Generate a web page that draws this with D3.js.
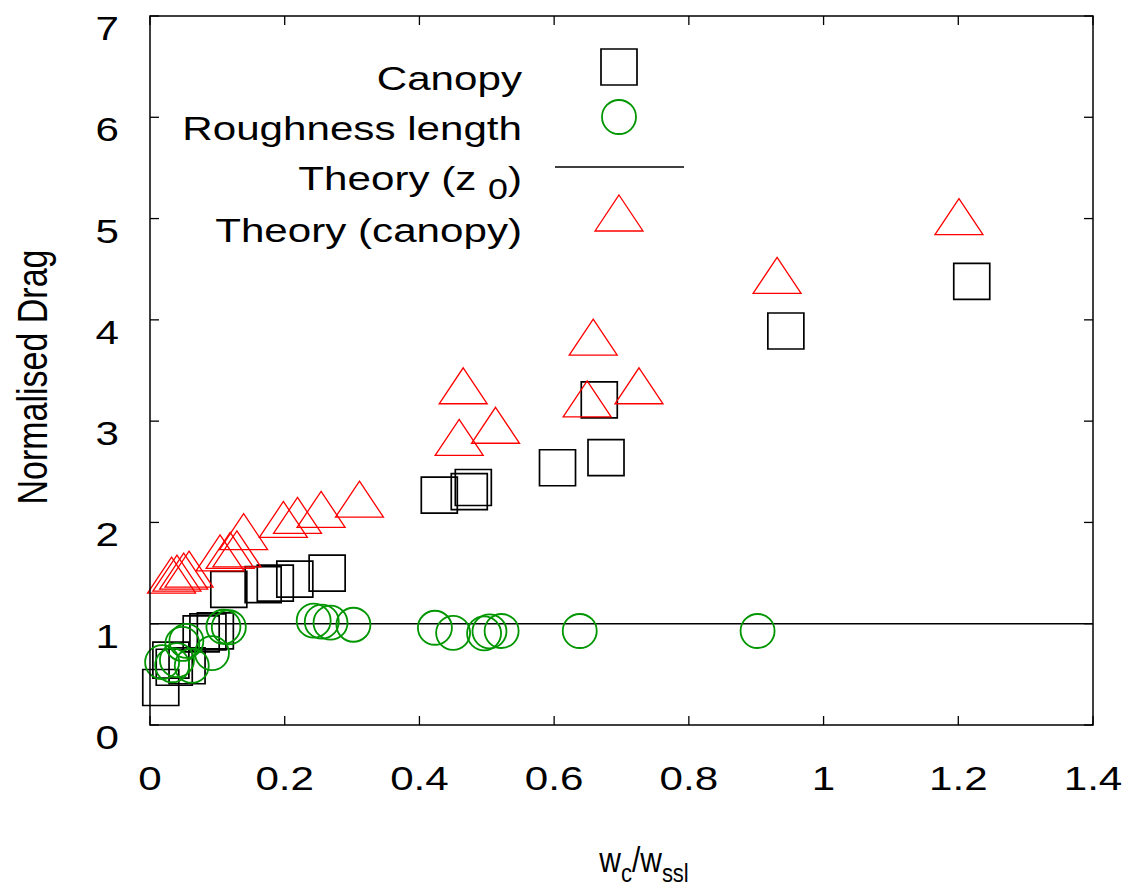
<!DOCTYPE html>
<html><head><meta charset="utf-8">
<script src="https://cdn.jsdelivr.net/npm/d3@7"></script>
<style>
html,body{margin:0;padding:0;background:#fff;}
text{font-family:"Liberation Sans",Arial,sans-serif;fill:#000;}
</style></head>
<body><svg id="chart" width="1128" height="889"></svg>
<script>
// ---- data ----
const canopyX = [0.016,0.031,0.036,0.055,0.076,0.086,0.097,0.117,0.168,0.186,0.215,0.263,0.4295,0.474,0.480,0.605,0.677,0.667,0.944,1.220];
const canopyY = [0.37,0.64,0.57,0.585,0.90,0.92,0.93,1.34,1.385,1.40,1.44,1.50,2.27,2.305,2.345,2.54,2.64,3.21,3.89,4.38];

const roughX = [0.018,0.033,0.040,0.048,0.054,0.062,0.092,0.109,0.117,0.243,0.255,0.268,0.302,0.423,0.450,0.496,0.504,0.522,0.638,0.902];
const roughY = [0.62,0.59,0.64,0.80,0.83,0.585,0.71,0.97,0.965,1.03,1.02,1.01,0.99,0.96,0.91,0.905,0.925,0.928,0.928,0.928];

const theoryZ0X = [0, 1.4];
const theoryZ0Y = [1, 1];

const theoryCanX = [0.032,0.040,0.050,0.058,0.104,0.119,0.129,0.139,0.198,0.219,0.254,0.311,0.459,0.465,0.513,0.649,0.658,0.726,0.931,1.201];
const theoryCanY = [1.42,1.44,1.46,1.48,1.64,1.665,1.68,1.85,1.97,2.01,2.07,2.17,2.78,3.29,2.90,3.16,3.77,3.29,4.38,4.96];

const xTicks = [0,0.2,0.4,0.6,0.8,1,1.2,1.4];
const xTickLabels = ["0","0.2","0.4","0.6","0.8","1","1.2","1.4"];
const yTicks = [0,1,2,3,4,5,6,7];
const yTickLabels = ["0","1","2","3","4","5","6","7"];

const legendLabels = ["Canopy","Roughness length","Theory (z","Theory (canopy)"];

// ---- layout ----
const L=150, R=1093, T=16, B=725;
const svg = d3.select("#chart");
const x = d3.scaleLinear().domain([0,1.4]).range([L,R]);
const y = d3.scaleLinear().domain([0,7]).range([B,T]);
const FS = 34, SX = 1.24;
const green = "#009600", red = "#ff0000";
const HS = 18;   // half size of markers
const tickLen = 9;

function stext(parent, px, py, anchor){
  return parent.append("text")
    .attr("transform",`translate(${px},${py}) scale(${SX},1)`)
    .attr("text-anchor",anchor).attr("font-size",FS);
}

// ticks (inward, mirrored)
const g = svg.append("g").attr("stroke","#000").attr("stroke-width",1.3);
xTicks.forEach(v=>{
  g.append("line").attr("x1",x(v)).attr("x2",x(v)).attr("y1",B).attr("y2",B-tickLen);
  g.append("line").attr("x1",x(v)).attr("x2",x(v)).attr("y1",T).attr("y2",T+tickLen);
});
yTicks.forEach(v=>{
  g.append("line").attr("x1",L).attr("x2",L+tickLen).attr("y1",y(v)).attr("y2",y(v));
  g.append("line").attr("x1",R).attr("x2",R-tickLen).attr("y1",y(v)).attr("y2",y(v));
});

// tick labels
const xl = svg.append("g");
xTicks.forEach((v,i)=>stext(xl, x(v), B+65, "middle").text(xTickLabels[i]));
const yl = svg.append("g");
yTicks.forEach((v,i)=>stext(yl, L-31, y(v)+24, "end").text(yTickLabels[i]));

// theory z0 line
const line = d3.line().x(d=>x(d[0])).y(d=>y(d[1]));
svg.append("path").datum(theoryZ0X.map((v,i)=>[v,theoryZ0Y[i]]))
  .attr("d",line).attr("fill","none").attr("stroke","#000").attr("stroke-width",1.5);

// marker shapes
function sq(cx,cy){return `M${cx-HS},${cy-HS}h${2*HS}v${2*HS}h${-2*HS}Z`;}
function tri(cx,cy){const h=HS; return `M${cx},${cy-4*h/3}L${cx+4*h/3},${cy+2*h/3}L${cx-4*h/3},${cy+2*h/3}Z`;}

// canopy squares
svg.append("g").selectAll("path").data(canopyX.map((v,i)=>[v,canopyY[i]])).join("path")
  .attr("d",d=>sq(x(d[0]),y(d[1]))).attr("fill","none").attr("stroke","#000").attr("stroke-width",1.7);
// roughness circles
svg.append("g").selectAll("circle").data(roughX.map((v,i)=>[v,roughY[i]])).join("circle")
  .attr("cx",d=>x(d[0])).attr("cy",d=>y(d[1])).attr("r",17)
  .attr("fill","none").attr("stroke",green).attr("stroke-width",1.8);
// theory canopy triangles
svg.append("g").selectAll("path").data(theoryCanX.map((v,i)=>[v,theoryCanY[i]])).join("path")
  .attr("d",d=>tri(x(d[0]),y(d[1]))).attr("fill","none").attr("stroke",red).attr("stroke-width",1.3);

// frame
svg.append("rect").attr("x",L).attr("y",T).attr("width",R-L).attr("height",B-T)
  .attr("fill","none").attr("stroke","#000").attr("stroke-width",1.5);

// legend
const legX = 522, symX = 619, rows=[67,117,167,219];
const lg = svg.append("g");
[0,1,3].forEach(i=>stext(lg, legX, rows[i]+23, "end").text(legendLabels[i]));
const t3 = stext(lg, legX, rows[2]+23, "end");
t3.append("tspan").text(legendLabels[2]+" ");
t3.append("tspan").attr("dy",9).attr("font-size",FS*0.85).text("0");
t3.append("tspan").attr("dy",-9).text(")");
lg.append("path").attr("d",sq(symX,rows[0])).attr("fill","none").attr("stroke","#000").attr("stroke-width",1.7);
lg.append("circle").attr("cx",symX).attr("cy",rows[1]).attr("r",17).attr("fill","none").attr("stroke",green).attr("stroke-width",1.8);
lg.append("line").attr("x1",555).attr("x2",684).attr("y1",rows[2]).attr("y2",rows[2]).attr("stroke","#000").attr("stroke-width",1.5);
lg.append("path").attr("d",tri(symX,rows[3])).attr("fill","none").attr("stroke",red).attr("stroke-width",1.3);

// axis titles
const xt = svg.append("text").attr("transform","translate(644,872) scale(1.0,1.15)")
  .attr("text-anchor","middle").attr("font-size",30);
xt.append("tspan").text("w");
xt.append("tspan").attr("dy",9).attr("font-size",22).text("c");
xt.append("tspan").attr("dy",-9).text("/w");
xt.append("tspan").attr("dy",9).attr("font-size",22).text("ssl");
svg.append("text").attr("transform",`translate(47,377) scale(${SX},1) rotate(-90)`).attr("text-anchor","middle")
  .attr("font-size",FS).text("Normalised Drag");
</script></body></html>
